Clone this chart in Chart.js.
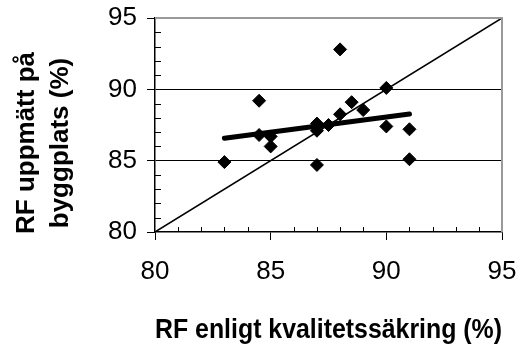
<!DOCTYPE html>
<html>
<head>
<meta charset="utf-8">
<script src="https://cdn.jsdelivr.net/npm/chart.js@4/dist/chart.umd.min.js"></script>
<style>
  html, body { margin: 0; padding: 0; background: #fff; }
  canvas { display: block; }
</style>
</head>
<body>
<canvas id="chart" width="522" height="349"></canvas>
<script>
    // RF enligt kvalitetssäkring (x) vs RF uppmätt på byggplats (y)
    const pointX = [83, 84.5, 84.5, 85, 85, 87, 87, 87, 87.5, 88, 88, 88.5, 89, 90, 90, 91, 91];
    const pointY = [84.9, 89.2, 86.8, 86.7, 86.0, 87.6, 87.1, 84.7, 87.5, 92.8, 88.25, 89.1, 88.55, 90.1, 87.4, 87.2, 85.1];

    // trendline endpoints and the 1:1 line
    const trendX = [83, 91];
    const trendY = [86.57, 88.27];
    const diagX = [80, 95];
    const diagY = [80, 95];

    const axisMin = 80, axisMax = 95;
    const xTitle = 'RF enligt kvalitetssäkring (%)';
    const yTitle = ['RF uppmätt på', 'byggplats (%)'];

    const FONT = '"Liberation Sans", Arial, sans-serif';
    const zip = (xs, ys) => xs.map((x, i) => ({ x, y: ys[i] }));
    const isMajor = v => v % 5 === 0;

    const framePlugin = {
        id: 'frame',
        afterDraw(chart) {
            const { ctx, chartArea: a, scales: { x, y } } = chart;
            ctx.save();
            // grey top/right frame
            ctx.strokeStyle = '#9a9a9a';
            ctx.lineWidth = 2;
            ctx.beginPath();
            ctx.moveTo(a.left, a.top);
            ctx.lineTo(a.right, a.top);
            ctx.lineTo(a.right, a.bottom);
            ctx.stroke();

            // minor ticks pointing into the plot
            ctx.strokeStyle = '#000';
            ctx.lineWidth = 1;
            ctx.beginPath();
            x.ticks.filter(t => !isMajor(t.value)).forEach(t => {
                const px = Math.round(x.getPixelForValue(t.value)) + 0.5;
                ctx.moveTo(px, a.bottom);
                ctx.lineTo(px, a.bottom - 5);
            });
            y.ticks.filter(t => !isMajor(t.value)).forEach(t => {
                const py = Math.round(y.getPixelForValue(t.value)) + 0.5;
                ctx.moveTo(a.left, py);
                ctx.lineTo(a.left + 6, py);
            });
            ctx.stroke();

            // two-line rotated y title
            ctx.fillStyle = '#000';
            ctx.font = 'bold 26px ' + FONT;
            ctx.textAlign = 'center';
            ctx.textBaseline = 'alphabetic';
            const baselines = [34, 68];
            yTitle.forEach((line, i) => {
                ctx.save();
                ctx.translate(baselines[i], 143);
                ctx.rotate(-Math.PI / 2);
                ctx.fillText(line, 0, 0);
                ctx.restore();
            });
            ctx.restore();
        }
    };

    new Chart(document.getElementById('chart'), {
        type: 'scatter',
        data: {
            datasets: [
                {
                    label: 'RF',
                    data: zip(pointX, pointY),
                    pointStyle: 'rectRot',
                    pointRadius: 6.5,
                    pointBackgroundColor: '#000',
                    pointBorderColor: '#000',
                    pointBorderWidth: 1,
                },
                {
                    label: 'Trend',
                    data: zip(trendX, trendY),
                    showLine: true,
                    borderColor: '#000',
                    borderWidth: 5,
                    borderCapStyle: 'round',
                    pointRadius: 0,
                },
                {
                    label: '1:1',
                    data: zip(diagX, diagY),
                    showLine: true,
                    borderColor: '#000',
                    borderWidth: 1.5,
                    pointRadius: 0,
                },
            ]
        },
        options: {
            responsive: false,
            animation: false,
            layout: { padding: { top: 18, right: 20, left: 0, bottom: 0 } },
            plugins: {
                legend: { display: false },
                tooltip: { enabled: false },
            },
            scales: {
                x: {
                    min: axisMin,
                    max: axisMax,
                    afterFit: s => { s.height = 117; s.paddingLeft = 0; s.paddingRight = 0; },
                    border: { color: '#000', width: 1.5 },
                    grid: {
                        drawOnChartArea: false,
                        tickLength: 8,
                        tickColor: c => isMajor(c.tick.value) ? '#000' : 'rgba(0,0,0,0)',
                    },
                    ticks: {
                        stepSize: 1,
                        autoSkip: false,
                        maxRotation: 0,
                        padding: 16,
                        color: '#000',
                        font: { family: FONT, size: 26 },
                        callback: v => isMajor(v) ? v : '',
                    },
                    title: {
                        display: true,
                        text: xTitle,
                        color: '#000',
                        font: { family: FONT, size: 28, weight: 'bold' },
                        padding: { top: 0, bottom: 2 },
                    },
                },
                y: {
                    min: axisMin,
                    max: axisMax,
                    afterFit: s => { s.width = 155; s.paddingTop = 0; s.paddingBottom = 0; },
                    border: { color: '#000', width: 1.5 },
                    grid: {
                        tickLength: 8,
                        color: c => (c.tick && isMajor(c.tick.value) && c.tick.value !== axisMin && c.tick.value !== axisMax) ? '#000' : 'rgba(0,0,0,0)',
                        tickColor: c => isMajor(c.tick.value) ? '#000' : 'rgba(0,0,0,0)',
                    },
                    ticks: {
                        stepSize: 1,
                        autoSkip: false,
                        padding: 10,
                        color: '#000',
                        font: { family: FONT, size: 26 },
                        callback: v => isMajor(v) ? v : '',
                    },
                },
            }
        },
        plugins: [framePlugin]
    });
</script>
</body>
</html>
